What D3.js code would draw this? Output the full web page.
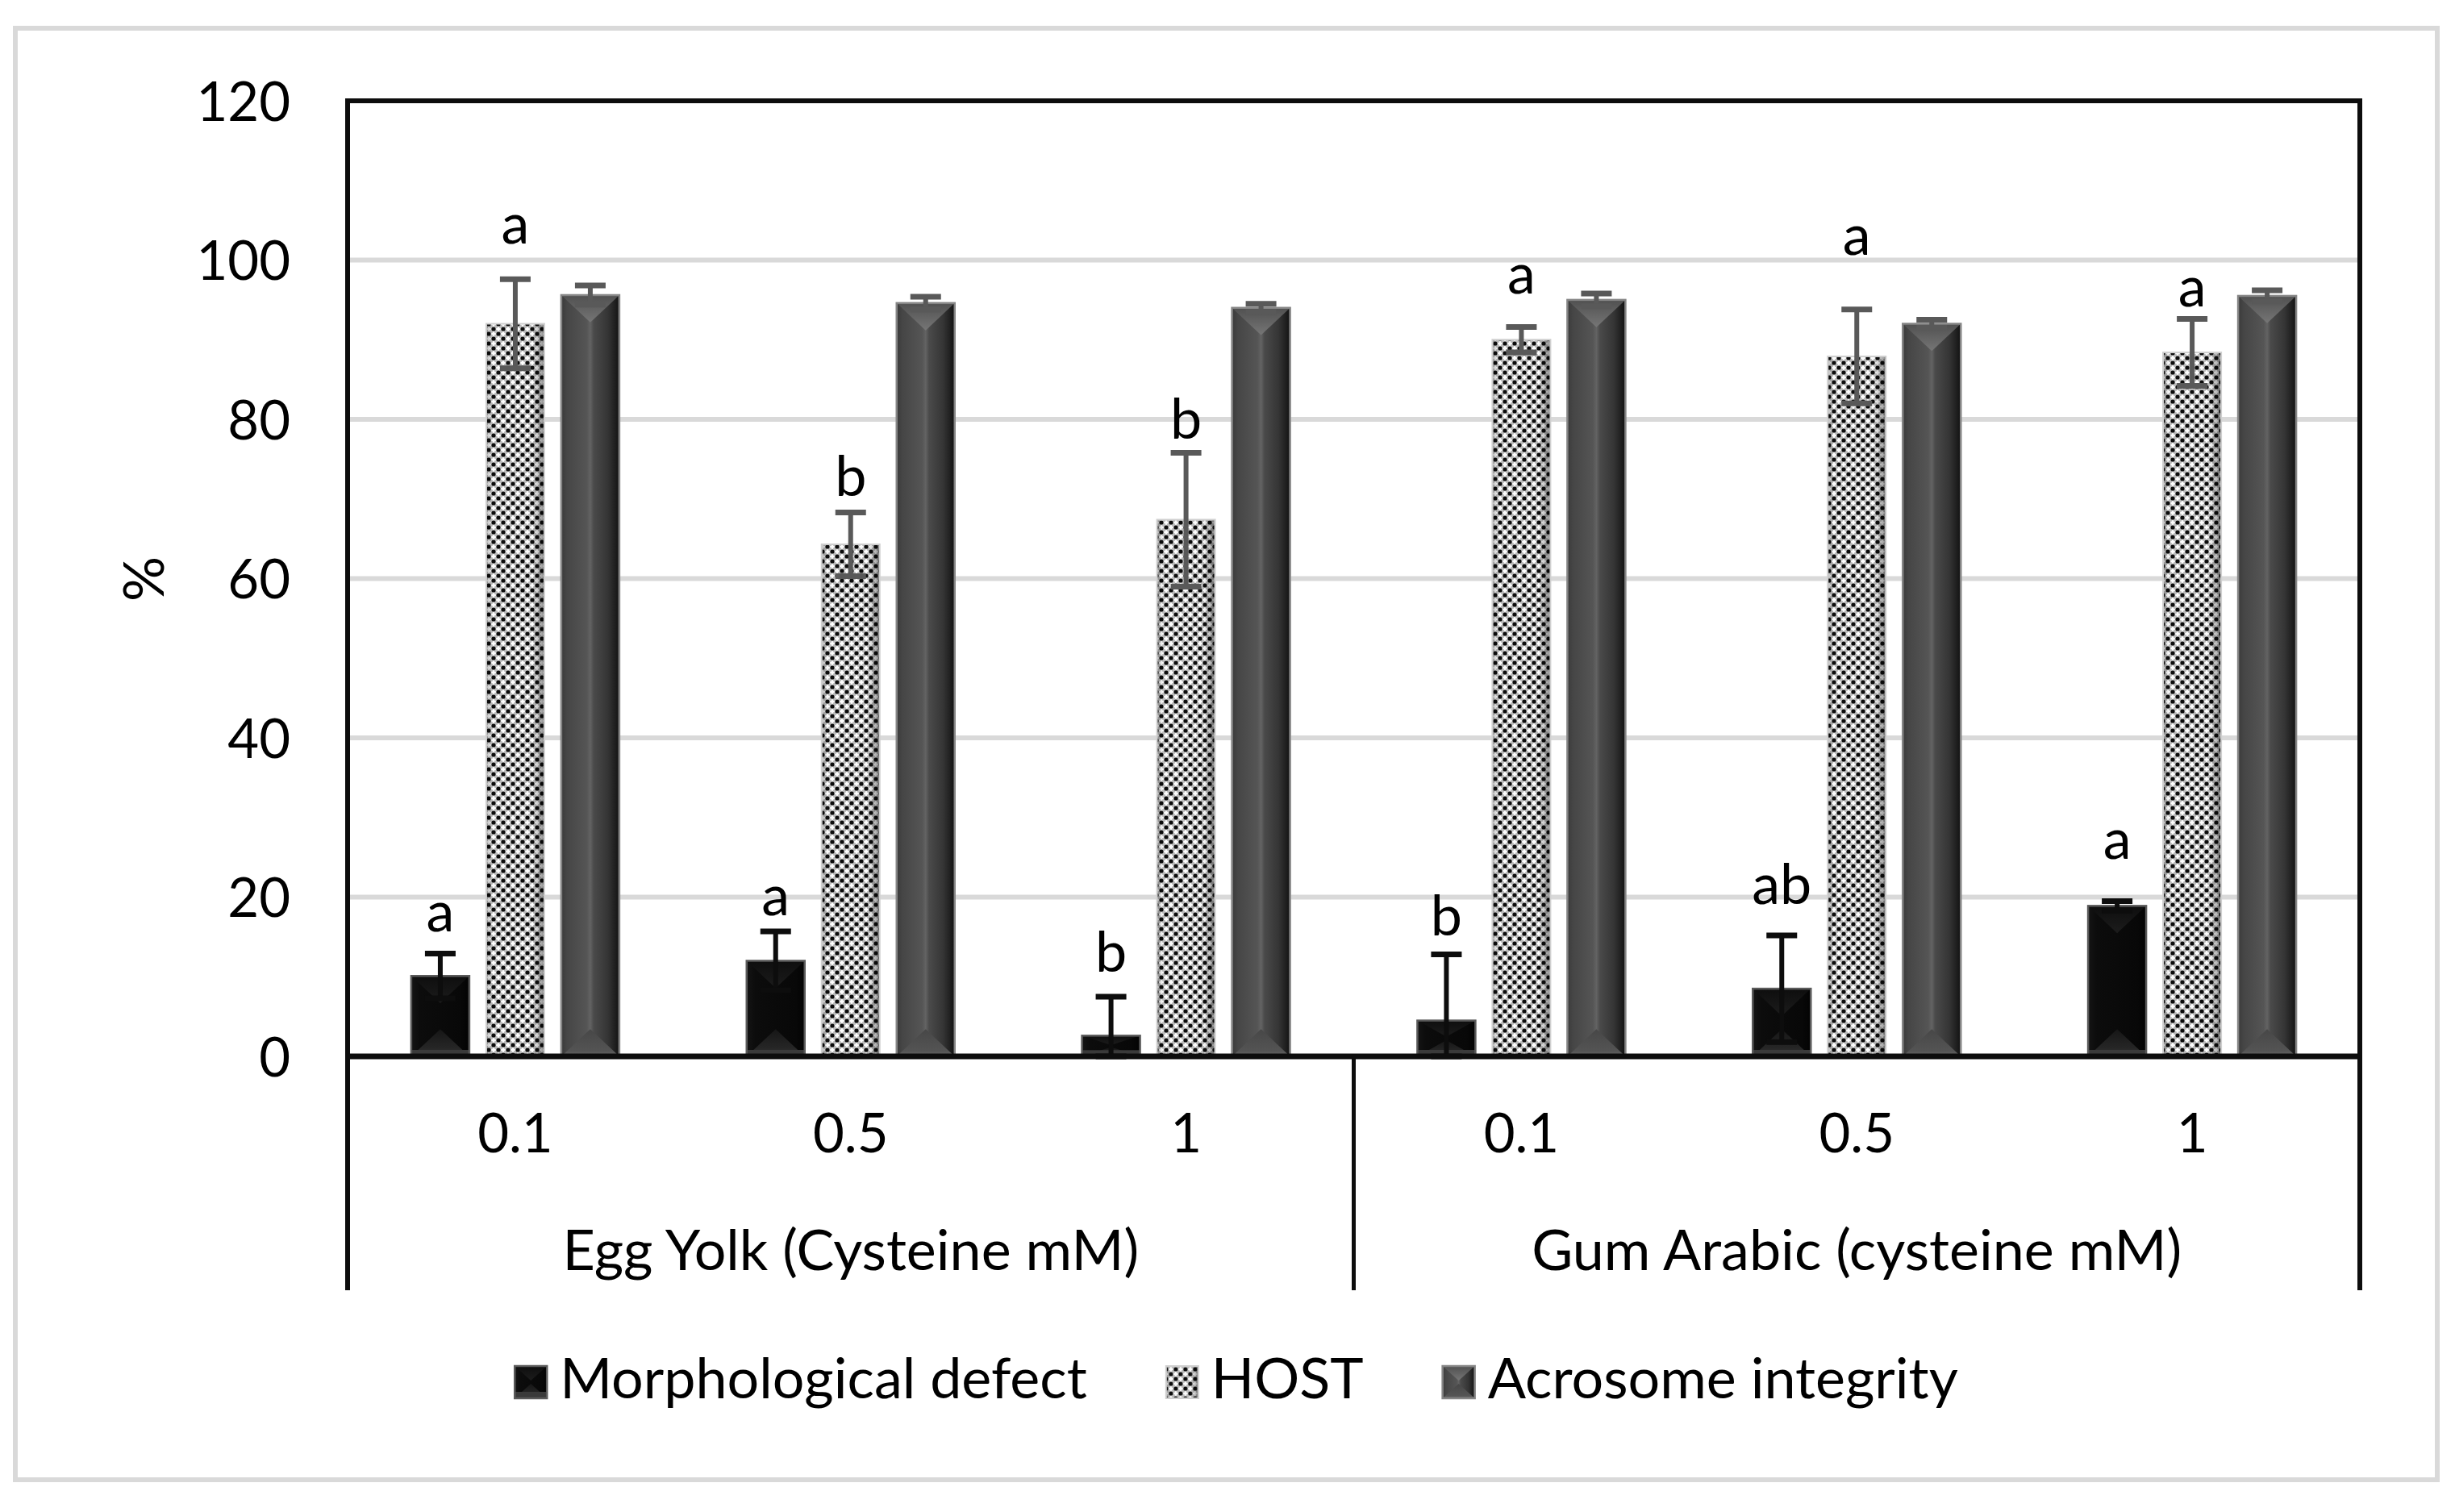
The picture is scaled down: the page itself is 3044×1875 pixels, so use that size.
<!DOCTYPE html>
<html><head><meta charset="utf-8">
<script src="https://cdn.jsdelivr.net/npm/d3@7"></script>
<style>
html,body{margin:0;padding:0;background:#fff;}
svg{display:block;}
text{font-family:Lato,"Open Sans",sans-serif;fill:#000;}
</style>
</head><body>
<svg id="c" width="3044" height="1875"></svg>
<script>
// ---------------- DATA ----------------
const categories = ["0.1","0.5","1","0.1","0.5","1"];
const groupLabels = ["Egg Yolk (Cysteine mM)","Gum Arabic (cysteine mM)"];
const groupSizes = [3,3];
const seriesNames = ["Morphological defect","HOST","Acrosome integrity"];
const morph    = [10.1, 12.0, 2.6, 4.5, 8.5, 18.9];
const morphErr = [2.8, 3.7, 4.9, 8.3, 6.7, 0.6];
const host     = [92.0, 64.3, 67.4, 90.0, 87.9, 88.4];
const hostErr  = [5.6, 4.0, 8.4, 1.6, 5.9, 4.2];
const acro     = [95.6, 94.6, 94.0, 95.0, 92.0, 95.5];
const acroErr  = [1.2, 0.8, 0.5, 0.8, 0.5, 0.7];
const morphLetters = ["a","a","b","b","ab","a"];
const morphLetterAt = [15.7, 17.7, 10.6, 15.2, 19.1, 24.8];
const hostLetters = ["a","b","b","a","a","a"];
const hostLetterAt = [102.1, 70.4, 77.6, 95.8, 100.7, 94.2];
const yTicks = [0,20,40,60,80,100,120];
const yTitle = "%";

// ---------------- LAYOUT ----------------
const FS = 70, FSN = 67;
const L = 431, R = 2926, T = 125, B0 = 1310, BOX = 1600;
const svg = d3.select("#c");
const defs = svg.append("defs");

function grad(id, stops, vertical){
  const g = defs.append("linearGradient").attr("id", id)
    .attr("x1",0).attr("y1",0).attr("x2",vertical?0:1).attr("y2",vertical?1:0);
  stops.forEach(([o,c,op])=>g.append("stop").attr("offset",o).attr("stop-color",c).attr("stop-opacity",op==null?1:op));
}
grad("gAcro",[[0,"#3a3a3a"],[0.1,"#464646"],[0.44,"#555555"],[0.5,"#636363"],[0.56,"#4a4a4a"],[0.8,"#353535"],[1,"#121212"]]);
grad("gAcroTop",[[0,"#505050"],[1,"#767676"]],true);
grad("gAcroBot",[[0,"#474747"],[0.8,"#545454"],[1,"#686868"]],true);
grad("gMorph",[[0,"#141414"],[0.15,"#0c0c0c"],[0.85,"#080808"],[1,"#030303"]]);
grad("gMorphTop",[[0,"#0e0e0e"],[1,"#1c1c1c"]],true);
grad("gMorphBot",[[0,"#161616"],[0.7,"#262626"],[1,"#3a3a3a"]],true);
grad("gHostShade",[[0,"#000",0.3],[0.1,"#000",0],[0.8,"#000",0],[1,"#000",0.45]]);

const P = 12;
const pat = defs.append("pattern").attr("id","pHost").attr("patternUnits","userSpaceOnUse")
  .attr("width",P).attr("height",P);
pat.append("rect").attr("width",P).attr("height",P).attr("fill","#bdbdbd");
function star(cx,cy){
  const a=4.2,b=1.3;
  pat.append("polygon").attr("points",
    `${cx},${cy-a} ${cx+b},${cy-b} ${cx+a},${cy} ${cx+b},${cy+b} ${cx},${cy+a} ${cx-b},${cy+b} ${cx-a},${cy} ${cx-b},${cy-b}`)
    .attr("fill","#fdfdfd");
}
[[P/2,0],[0,P/2],[P,P/2],[P/2,P]].forEach(([cx,cy])=>star(cx,cy));
[[0,0],[P,0],[0,P],[P,P],[P/2,P/2]].forEach(([cx,cy])=>pat.append("circle").attr("cx",cx).attr("cy",cy).attr("r",2.6).attr("fill","#0c0c0c"));

const y = d3.scaleLinear().domain([0,120]).range([B0, T]);
const x0 = d3.scaleBand().domain(d3.range(categories.length)).range([L, R]).padding(0);
const x1 = d3.scaleBand().domain(seriesNames).range([0, 258]).paddingInner(21/93).paddingOuter(0);
const bw = x1.bandwidth();

// outer border
svg.append("rect").attr("x",19).attr("y",35).attr("width",3003).attr("height",1800)
  .attr("fill","#fff").attr("stroke","#d9d9d9").attr("stroke-width",6);

// gridlines
svg.append("g").selectAll("line").data(yTicks.filter(t=>t>0 && t<120)).join("line")
  .attr("x1",L).attr("x2",R).attr("y1",d=>y(d)).attr("y2",d=>y(d))
  .attr("stroke","#d9d9d9").attr("stroke-width",6);

// y axis labels
const yAx = svg.append("g").attr("transform",`translate(${L},0)`)
  .call(d3.axisLeft(y).tickValues(yTicks).tickSize(0).tickPadding(71));
yAx.select(".domain").remove();
yAx.selectAll("text").attr("font-size",FSN).attr("font-family","Lato").attr("dy","0.36em").attr("fill","#000");

// y title
svg.append("text").attr("transform","translate(178,718) rotate(-90)")
  .attr("text-anchor","middle").attr("dy","0.36em").attr("font-size",FS).text(yTitle);

function drawBar(g, x, yTop, w, h, type){
  const d = Math.min(w*0.47, h*0.45);
  if(type===1){
    g.append("rect").attr("x",x).attr("y",yTop).attr("width",w).attr("height",h).attr("fill","url(#pHost)");
    g.append("rect").attr("x",x).attr("y",yTop).attr("width",w).attr("height",h).attr("fill","url(#gHostShade)");
    g.append("rect").attr("x",x).attr("y",yTop).attr("width",w).attr("height",h).attr("fill","none").attr("stroke","#cfcfcf").attr("stroke-width",2);
    return;
  }
  const base = type===0 ? "url(#gMorph)" : "url(#gAcro)";
  const top = type===0 ? "url(#gMorphTop)" : "url(#gAcroTop)";
  const bot = type===0 ? "url(#gMorphBot)" : "url(#gAcroBot)";
  const outline = type===0 ? "#5a5a5a" : "#858585";
  g.append("rect").attr("x",x).attr("y",yTop).attr("width",w).attr("height",h).attr("fill",base);
  if(d>2){
    g.append("polygon").attr("points",`${x},${yTop} ${x+w},${yTop} ${x+w/2},${yTop+d}`).attr("fill",top);
    g.append("polygon").attr("points",`${x},${yTop+h} ${x+w},${yTop+h} ${x+w/2},${yTop+h-d}`).attr("fill",bot);
  }
  if(type===0){
    const bh = Math.min(8, h*0.3);
    g.append("rect").attr("x",x).attr("y",yTop+h-bh).attr("width",w).attr("height",bh).attr("fill","#3a3a3a");
  }
  g.append("rect").attr("x",x).attr("y",yTop).attr("width",w).attr("height",h).attr("fill","none").attr("stroke",outline).attr("stroke-width",2.5);
}

const series = [
  {name:seriesNames[0], vals:morph, err:morphErr, type:0, ec:"#0d0d0d"},
  {name:seriesNames[1], vals:host, err:hostErr, type:1, ec:"#595959"},
  {name:seriesNames[2], vals:acro, err:acroErr, type:2, ec:"#595959"}
];

const barsG = svg.append("g");
const errG = svg.append("g");
categories.forEach((c,i)=>{
  const gx = x0(i) + x0.bandwidth()/2 - 129;
  series.forEach(s=>{
    const bx = gx + x1(s.name);
    const v = s.vals[i];
    drawBar(barsG, bx, y(v), bw, y(0)-y(v), s.type);
    const cx = bx + bw/2, hi = y(v + s.err[i]), lo = y(Math.max(0, v - s.err[i]));
    errG.append("line").attr("x1",cx).attr("x2",cx).attr("y1",hi).attr("y2",lo).attr("stroke",s.ec).attr("stroke-width",6);
    [hi, lo].forEach(yy=>errG.append("line").attr("x1",cx-19).attr("x2",cx+19).attr("y1",yy).attr("y2",yy).attr("stroke",s.ec).attr("stroke-width",7));
  });
});

// frame
const fr = svg.append("g").attr("stroke","#0d0d0d");
fr.append("line").attr("x1",L).attr("x2",L).attr("y1",T-3).attr("y2",BOX).attr("stroke-width",6);
fr.append("line").attr("x1",R).attr("x2",R).attr("y1",T-3).attr("y2",BOX).attr("stroke-width",6);
fr.append("line").attr("x1",L-3).attr("x2",R+3).attr("y1",T).attr("y2",T).attr("stroke-width",6);
fr.append("line").attr("x1",L).attr("x2",R).attr("y1",y(0)).attr("y2",y(0)).attr("stroke-width",7);
// group dividers + group labels
let acc = 0;
groupSizes.forEach((n,gi)=>{
  if(gi>0){
    const xb = x0(acc);
    fr.append("line").attr("x1",xb).attr("x2",xb).attr("y1",y(0)).attr("y2",BOX).attr("stroke-width",5);
  }
  const xs = x0(acc), xe = x0(acc+n-1)+x0.bandwidth();
  svg.append("text").attr("x",(xs+xe)/2).attr("y",1575).attr("text-anchor","middle").attr("font-size",FS).text(groupLabels[gi]);
  acc += n;
});

// x axis category labels
const xAx = svg.append("g").attr("transform",`translate(0,${B0})`)
  .call(d3.axisBottom(x0).tickFormat(i=>categories[i]).tickSize(0));
xAx.select(".domain").remove();
xAx.selectAll("text").attr("font-size",FSN).attr("font-family","Lato").attr("y",119).attr("dy",0).attr("fill","#000");

// letters
const lg = svg.append("g").attr("text-anchor","middle").attr("font-size",FS);
categories.forEach((c,i)=>{
  const gx = x0(i) + x0.bandwidth()/2 - 129;
  lg.append("text").attr("x",gx + x1(seriesNames[0]) + bw/2).attr("y",y(morphLetterAt[i])).text(morphLetters[i]);
  lg.append("text").attr("x",gx + x1(seriesNames[1]) + bw/2).attr("y",y(hostLetterAt[i])).text(hostLetters[i]);
});

// legend
const leg = svg.append("g");
const items = [];
series.forEach((s,k)=>{
  const it = leg.append("g");
  drawBar(it, 0, -40, 40, 40, s.type);
  const t = it.append("text").attr("x",56).attr("y",0).attr("font-size",FS).text(s.name);
  const w = 56 + t.node().getComputedTextLength();
  items.push({it, w});
});
const gap = 98;
const total = d3.sum(items, d=>d.w) + gap*(items.length-1);
let sx = 1533 - total/2;
items.forEach(d=>{ d.it.attr("transform",`translate(${sx},1734)`); sx += d.w + gap; });
</script>
</body></html>
